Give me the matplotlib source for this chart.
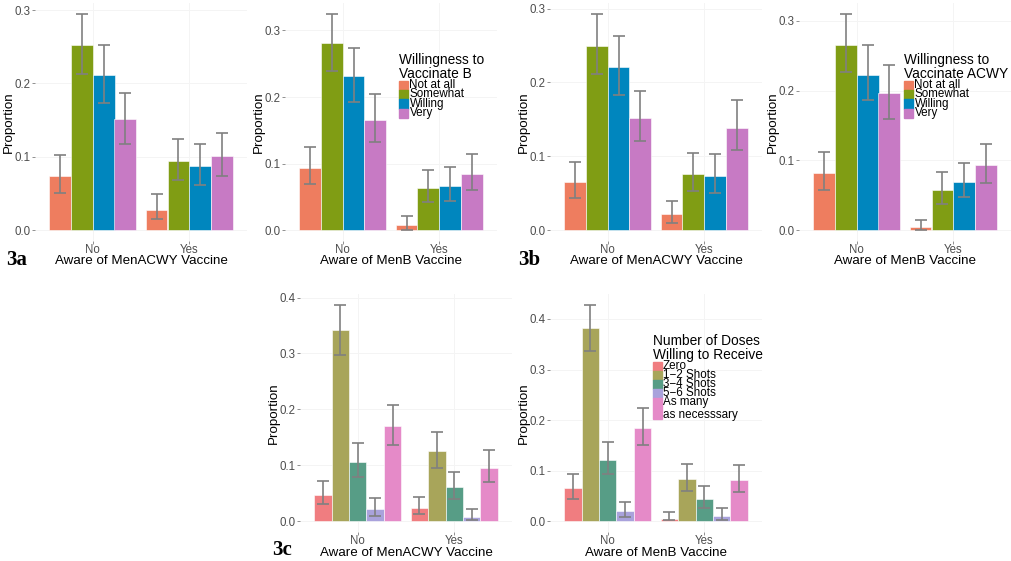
import numpy as np
from matplotlib import pyplot as plt

plt.rcParams['font.family'] = ['Liberation Sans', 'DejaVu Sans']

W_PX, H_PX = 1012, 561

aware = ['No', 'Yes']
willing_levels = ['Not at all', 'Somewhat', 'Willing', 'Very']
dose_levels = ['Zero', '1\u22122 Shots', '3\u22124 Shots', '5\u22126 Shots',
               'As many\nas necesssary']

willing_colors = ['#EE7D5F', '#809D14', '#0086BE', '#C77AC4']
dose_colors = ['#F07D80', '#A8A55A', '#579D86', '#A9A2DC', '#E58AC8']

# rows = aware (No, Yes), columns = response level
# 3a: willingness to vaccinate B
b_by_acwy = [[0.074, 0.252, 0.211, 0.151], [0.028, 0.094, 0.087, 0.101]]
b_by_acwy_lo = [[0.051, 0.213, 0.174, 0.118], [0.015, 0.068, 0.062, 0.074]]
b_by_acwy_hi = [[0.102, 0.295, 0.253, 0.187], [0.049, 0.125, 0.117, 0.133]]

b_by_b = [[0.094, 0.281, 0.231, 0.166], [0.008, 0.064, 0.067, 0.085]]
b_by_b_lo = [[0.069, 0.239, 0.192, 0.132], [0.001, 0.043, 0.044, 0.060]]
b_by_b_hi = [[0.125, 0.325, 0.274, 0.204], [0.022, 0.091, 0.095, 0.115]]

# 3b: willingness to vaccinate ACWY
acwy_by_acwy = [[0.065, 0.250, 0.221, 0.152], [0.022, 0.076, 0.074, 0.139]]
acwy_by_acwy_lo = [[0.043, 0.211, 0.183, 0.121], [0.010, 0.053, 0.051, 0.108]]
acwy_by_acwy_hi = [[0.092, 0.293, 0.263, 0.189], [0.040, 0.105, 0.103, 0.176]]

acwy_by_b = [[0.082, 0.266, 0.223, 0.197], [0.004, 0.057, 0.069, 0.093]]
acwy_by_b_lo = [[0.058, 0.226, 0.186, 0.160], [0.0005, 0.038, 0.047, 0.068]]
acwy_by_b_hi = [[0.112, 0.310, 0.265, 0.237], [0.015, 0.083, 0.096, 0.124]]

# 3c: number of doses willing to receive
dose_by_acwy = [[0.047, 0.342, 0.106, 0.022, 0.171],
                [0.024, 0.125, 0.061, 0.008, 0.095]]
dose_by_acwy_lo = [[0.030, 0.298, 0.079, 0.010, 0.136],
                   [0.012, 0.095, 0.040, 0.003, 0.070]]
dose_by_acwy_hi = [[0.072, 0.387, 0.139, 0.041, 0.208],
                   [0.044, 0.160, 0.088, 0.022, 0.127]]

dose_by_b = [[0.065, 0.382, 0.122, 0.020, 0.184],
             [0.005, 0.083, 0.044, 0.011, 0.081]]
dose_by_b_lo = [[0.044, 0.336, 0.093, 0.009, 0.150],
                [0.002, 0.059, 0.027, 0.003, 0.058]]
dose_by_b_hi = [[0.093, 0.428, 0.156, 0.038, 0.223],
                [0.019, 0.114, 0.069, 0.026, 0.111]]


def px_axes(fig, left, top, w=212, h=238):
    return fig.add_axes([left / W_PX, 1 - (top + h) / H_PX, w / W_PX, h / H_PX])


def bar_panel(ax, vals, lo, hi, colors, xlabel):
    vals, lo, hi = np.array(vals), np.array(lo), np.array(hi)
    n = vals.shape[1]
    w = 0.9 / n
    x = np.arange(len(aware)) + 1
    for i in range(n):
        xs = x - 0.45 + w * (i + 0.5)
        ax.bar(xs, vals[:, i], width=w, color=colors[i], edgecolor='white',
               linewidth=0.4, zorder=2)
        ax.errorbar(xs, vals[:, i],
                    yerr=[vals[:, i] - lo[:, i], hi[:, i] - vals[:, i]],
                    fmt='none', ecolor='#808080', elinewidth=1.2,
                    capsize=4.2, capthick=1.2, zorder=3)
    top = hi.max()
    ax.set_ylim(-0.05 * top, 1.05 * top)
    ax.set_xlim(0.4, 2.6)
    ticks = np.arange(0, 1.05 * top + 1e-9, 0.1)
    ax.set_yticks(ticks)
    ax.set_yticklabels(['%.1f' % t for t in ticks])
    ax.set_xticks(x)
    ax.set_xticklabels(aware)
    for s in ax.spines.values():
        s.set_visible(False)
    ax.grid(True, color='#F4F4F4', linewidth=0.7, zorder=0)
    ax.set_axisbelow(True)
    ax.tick_params(length=2, width=0.6, color='#7F7F7F', labelcolor='#4D4D4D',
                   labelsize=8.3, pad=1)
    ax.tick_params(axis='x', pad=0.3)
    ax.set_ylabel('Proportion', fontsize=9.6)
    ax.set_xlabel(xlabel, fontsize=9.6)
    ax.yaxis.set_label_coords(-20 / 212, 0.5)
    ax.xaxis.set_label_coords(0.5, -14.5 / 238)


def key_legend(fig, x, y, title, labels, colors, pitch=9.4):
    # x, y: left and top of the key column in pixels
    fig.text(x / W_PX, 1 - (y - 13.5) / H_PX, title, fontsize=9.9,
             va='center', ha='left', linespacing=0.98)
    cur = y
    for lab, col in zip(labels, colors):
        nl = lab.count('\n') + 1
        h = pitch if nl == 1 else 21
        fig.patches.append(plt.Rectangle((x / W_PX, 1 - (cur + h) / H_PX),
                                         9 / W_PX, h / H_PX, color=col,
                                         transform=fig.transFigure,
                                         figure=fig))
        fig.text((x + 10) / W_PX, 1 - (cur + h / 2 - 0.3) / H_PX, lab,
                 fontsize=8.4, va='center', ha='left', linespacing=1.2)
        cur += h


fig = plt.figure(figsize=(W_PX / 100, H_PX / 100), dpi=100)

ax1 = px_axes(fig, 35, 3)
bar_panel(ax1, b_by_acwy, b_by_acwy_lo, b_by_acwy_hi, willing_colors,
          'Aware of MenACWY Vaccine')
ax2 = px_axes(fig, 285, 3)
bar_panel(ax2, b_by_b, b_by_b_lo, b_by_b_hi, willing_colors,
          'Aware of MenB Vaccine')
ax3 = px_axes(fig, 550, 3)
bar_panel(ax3, acwy_by_acwy, acwy_by_acwy_lo, acwy_by_acwy_hi, willing_colors,
          'Aware of MenACWY Vaccine')
ax4 = px_axes(fig, 799, 3)
bar_panel(ax4, acwy_by_b, acwy_by_b_lo, acwy_by_b_hi, willing_colors,
          'Aware of MenB Vaccine')
ax5 = px_axes(fig, 300, 294)
bar_panel(ax5, dose_by_acwy, dose_by_acwy_lo, dose_by_acwy_hi, dose_colors,
          'Aware of MenACWY Vaccine')
ax6 = px_axes(fig, 550, 294)
bar_panel(ax6, dose_by_b, dose_by_b_lo, dose_by_b_hi, dose_colors,
          'Aware of MenB Vaccine')

key_legend(fig, 399.5, 80.5, 'Willingness to\nVaccinate B', willing_levels,
           willing_colors)
key_legend(fig, 904.5, 80.5, 'Willingness to\nVaccinate ACWY', willing_levels,
           willing_colors)
key_legend(fig, 653, 361.5, 'Number of Doses\nWilling to Receive', dose_levels,
           dose_colors, pitch=9.2)

for lab, px, py in [('3a', 6, 259.5), ('3b', 518, 259.5), ('3c', 272, 550)]:
    fig.text(px / W_PX, 1 - py / H_PX, lab, fontsize=15, fontweight='bold',
             family='Liberation Serif', va='center', ha='left')

fig.savefig('out.png', dpi=100, facecolor='white')
